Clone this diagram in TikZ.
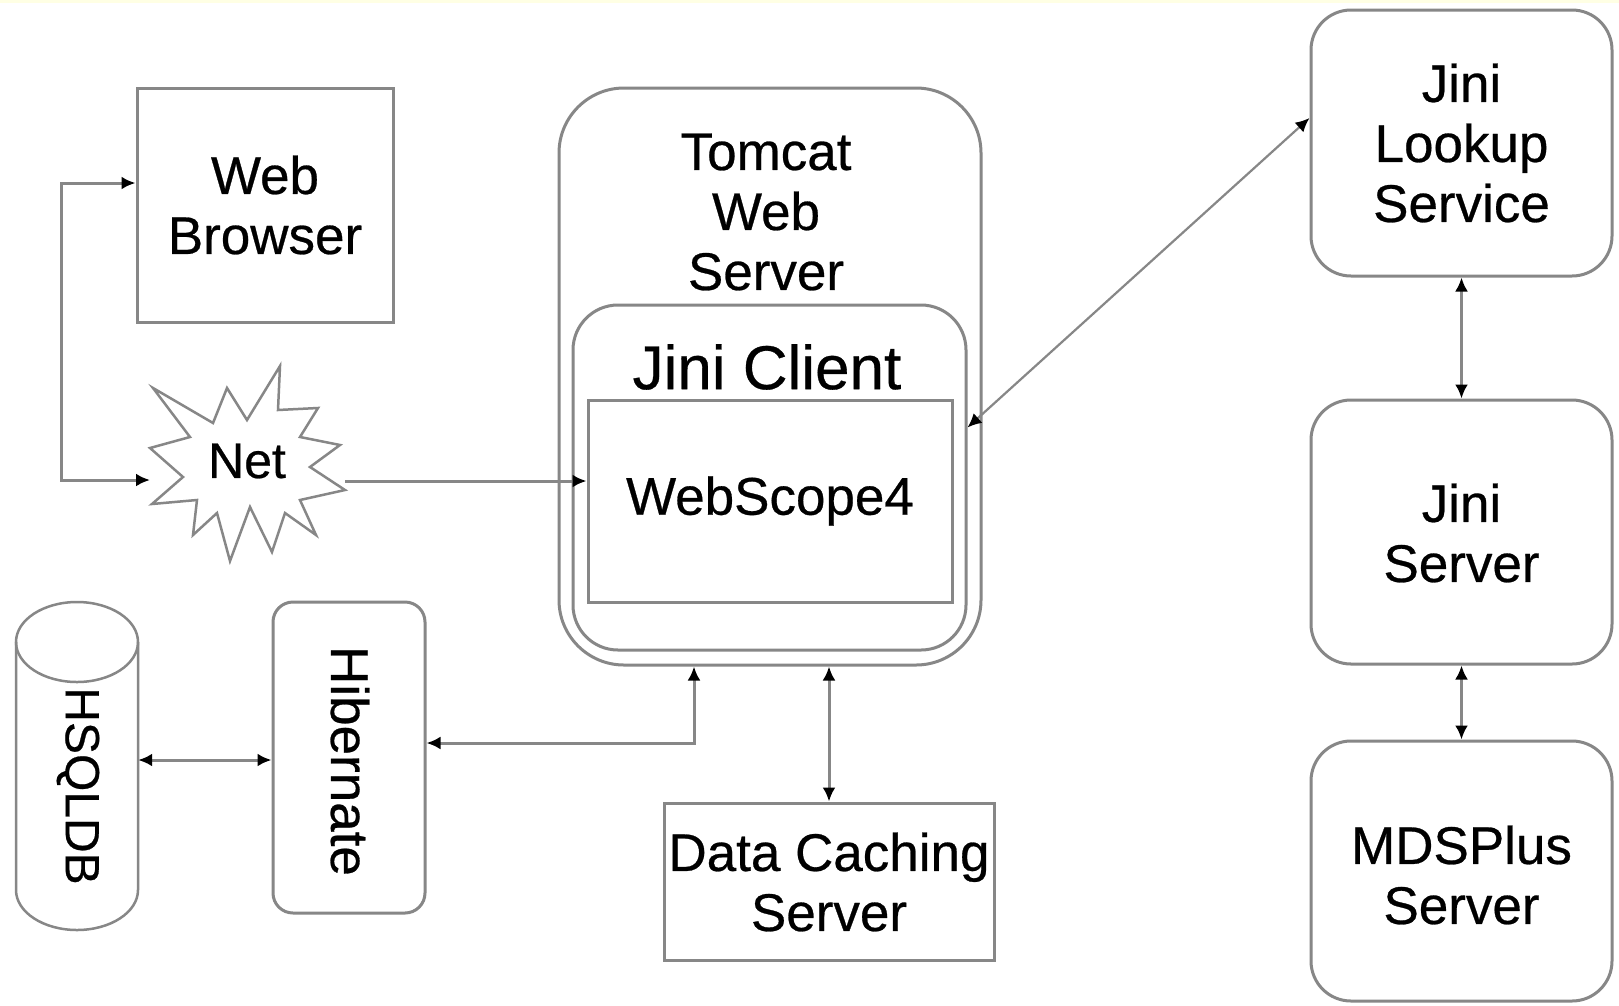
\documentclass[tikz,border=0pt]{standalone}
\usepackage{fontspec}
\setmainfont{Liberation Sans}[FakeBold=0.5]
\usetikzlibrary{arrows.meta,calc}
\definecolor{lineC}{RGB}{135,135,135}
\definecolor{topY}{RGB}{255,255,228}
\begin{document}
\begin{tikzpicture}[x=1pt,y=-1pt,
  box/.style={draw=lineC, line width=3pt, inner sep=0pt, align=center},
  rbox/.style={box, rounded corners=40pt},
  txt/.style={inner sep=0pt, align=center, font=\fontsize{53}{60}\selectfont},
  conn/.style={draw=lineC, line width=3pt, {Latex[length=14pt,width=13pt,color=black]}-{Latex[length=14pt,width=13pt,color=black]}},
  conn1/.style={draw=lineC, line width=3pt, -{Latex[length=14pt,width=13pt,color=black]}}
]
\fill[white] (0,0) rectangle (1619,1005);
\fill[topY] (0,0) rectangle (1619,3);
\useasboundingbox (0,0) rectangle (1619,1005);

% Web browser
\node[box, minimum width=256pt, minimum height=234pt] (browser) at (265,205) {};
\node[txt] (browserlbl) at (265,205) {Web\\Browser};

% Tomcat
\node[box, rounded corners=65pt, minimum width=422pt, minimum height=577pt] (tomcat) at (770,376.5) {};
\node[txt] (tomcatlbl) at (766,212) {Tomcat\\Web\\Server};
\node[box, rounded corners=45pt, minimum width=393pt, minimum height=345pt] (jiniclient) at (769.5,477.5) {};
\node[txt, font=\fontsize{62}{70}\selectfont] (jiniclientlbl) at (767,367) {Jini Client};
\node[box, minimum width=364pt, minimum height=202pt] (webscope) at (770,501) {};
\node[txt] (webscopelbl) at (770,501) {WebScope4};

% Jini side
\node[rbox, minimum width=301pt, minimum height=266pt] (lookup) at (1461.5,143) {};
\node[txt] (lookuplbl) at (1461.5,143) {Jini\\Lookup\\Service};
\node[rbox, minimum width=301pt, minimum height=264pt] (jserver) at (1461.5,532) {};
\node[txt] (jserverlbl) at (1461.5,533) {Jini\\Server};
\node[rbox, minimum width=301pt, minimum height=260pt] (mds) at (1461.5,871) {};
\node[txt] (mdslbl) at (1461.5,875) {MDSPlus\\Server};

% Data caching
\node[box, minimum width=330pt, minimum height=157pt] (datacache) at (829,881.5) {};
\node[txt] (datacachelbl) at (829,882) {Data Caching\\Server};

% Hibernate
\node[box, rounded corners=20pt, minimum width=152pt, minimum height=311pt] (hibernate) at (349,757.5) {};
\node[txt, rotate=-90] (hibernatelbl) at (350,761) {Hibernate};

% HSQLDB cylinder
\node[inner sep=0pt, minimum width=122pt, minimum height=328pt] (hsqldb) at (77,766) {};
\draw[draw=lineC, line width=2.5pt] (77,642) ellipse [x radius=61, y radius=40];
\draw[draw=lineC, line width=2.5pt] (16,642) -- (16,890) arc[start angle=180, end angle=0, x radius=61, y radius=40] -- (138,642);
\node[txt, rotate=-90, font=\fontsize{48}{56}\selectfont] (hsqldblbl) at (78,786) {HSQLDB};

% Net starburst
\draw[draw=lineC, line width=2.5pt, fill=white]
  (280,366) -- (278,410) -- (318,408) -- (300,437) -- (340,445) -- (310,467) -- (345,490)
  -- (300,500) -- (316,535) -- (285,513) -- (272,552) -- (250,507) -- (230,561)
  -- (217,513) -- (193,535) -- (197,500) -- (152,504) -- (183,477) -- (150,448)
  -- (190,437) -- (153,388) -- (213,423) -- (227,388) -- (247,420) -- cycle;
\node[txt, font=\fontsize{50}{56}\selectfont] (net) at (247,461) {Net};
\coordinate (netL) at (150,480);
\coordinate (netR) at (345,481);

% connectors
\draw[conn] ([yshift=22pt]browser.west) -- ++(-74,0) |- (netL);
\draw[conn1] (netR) -- (netR -| webscope.west);
\draw[conn, line width=2.2pt] ([yshift=25pt]lookup.west) -- ([yshift=50pt]jiniclient.east);
\draw[conn] (lookup.south) -- (jserver.north);
\draw[conn] (jserver.south) -- (mds.north);
\draw[conn] (tomcat.south -| datacache.north) -- (datacache.north);
\coordinate (hx) at (694,0);
\draw[conn] (tomcat.south -| hx) |- ([yshift=14.5pt]hibernate.east);
\coordinate (hsqR) at ([yshift=6pt]hsqldb.east);
\draw[conn] (hsqR) -- (hsqR -| hibernate.west);
\end{tikzpicture}
\end{document}
